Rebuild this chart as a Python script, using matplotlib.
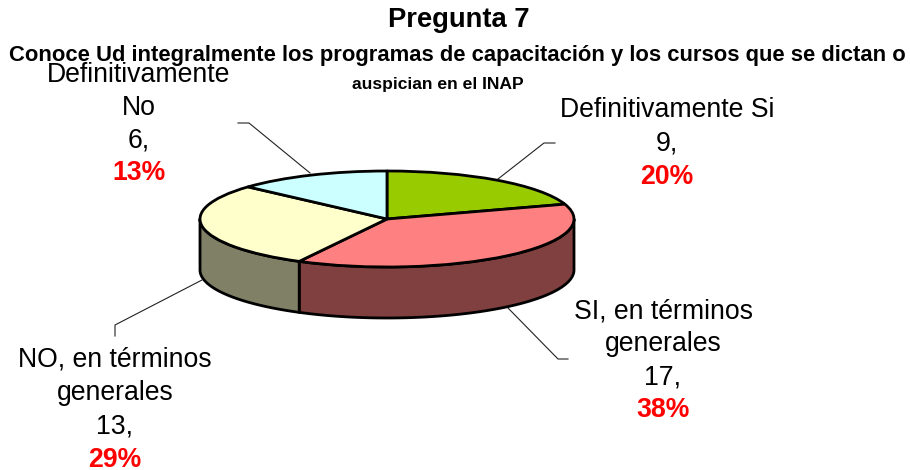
import numpy as np
import matplotlib
matplotlib.use('Agg')
import matplotlib.pyplot as plt
from matplotlib.lines import Line2D
from matplotlib.patches import Polygon

plt.rcParams['font.family'] = ['Liberation Sans', 'DejaVu Sans']

title = 'Pregunta 7'
subtitle = ['Conoce Ud integralmente los programas de capacitación y los cursos que se dictan o',
            'auspician en el INAP']
labels = [['Definitivamente Si'],
          ['SI, en términos', 'generales'],
          ['NO, en términos', 'generales'],
          ['Definitivamente', 'No']]
values = [9, 17, 13, 6]
top_colors = ['#99CC00', '#FF8080', '#FFFFCC', '#CCFFFF']
wall_colors = ['#4D6600', '#804040', '#808066', '#668080']

W, H = 910, 470
# pie geometry in pixels of the picture
cx, cy, rx, ry, depth = 387, 219, 187, 48, 51
edge = 2.0


def fx(x):
    return x / W


def fy(y):
    return 1 - y / H


fig = plt.figure(figsize=(W / 100, H / 100), dpi=100)
ax = fig.add_axes([0, 0, 1, 1])

total = sum(values)
bounds = np.cumsum([0] + values) / total * 360
depth_u = depth / ry

# front wall of the pie, only the part facing the viewer
for i in range(len(values)):
    a0 = max(bounds[i], 90)
    a1 = min(bounds[i + 1], 270)
    if a1 <= a0:
        continue
    th = np.radians(np.linspace(a0, a1, 80))
    xs = np.sin(th)
    ys = np.cos(th)
    pts = np.r_[np.c_[xs, ys], np.c_[xs[::-1], ys[::-1] - depth_u]]
    ax.add_patch(Polygon(pts, closed=True, facecolor=wall_colors[i],
                         edgecolor='black', linewidth=edge, joinstyle='round'))

ax.pie(values, colors=top_colors, startangle=90, counterclock=False, radius=1,
       wedgeprops={'edgecolor': 'black', 'linewidth': edge, 'joinstyle': 'round'})
ax.set_aspect('auto')
ax.set_xlim(-cx / rx, (W - cx) / rx)
ax.set_ylim((cy - H) / ry, cy / ry)
ax.set_axis_off()

# titles
fig.text(fx(459), fy(20), title, fontsize=19.7, fontweight='bold',
         ha='center', va='center', color='black')
fig.text(fx(457), fy(56), subtitle[0], fontsize=15.85, fontweight='bold',
         ha='center', va='center', color='black')
fig.text(fx(438), fy(85), subtitle[1], fontsize=12.6, fontweight='bold',
         ha='center', va='center', color='black')

# data labels: centre x, y of first line, line step
label_pos = [(667, 110, 33.5), (663, 311, 33), (115, 359, 33.7), (139, 75, 32.8)]
for name, v, (lx, ly, step) in zip(labels, values, label_pos):
    rows = name + [f'{v},']
    for j, row in enumerate(rows):
        fig.text(fx(lx), fy(ly + j * step), row, fontsize=19.2, ha='center',
                 va='center', color='black')
    fig.text(fx(lx), fy(ly + len(rows) * step), f'{v / total:.0%}', fontsize=19.2,
             fontweight='bold', ha='center', va='center', color='#FF0000')

# leader lines
leaders = [([555, 544, 498], [143, 143, 179]),
           ([508, 558, 568], [308, 359, 359]),
           ([202, 115, 115], [280, 325, 336]),
           ([238, 249, 310], [123, 123, 173])]
for xs, ys in leaders:
    fig.add_artist(Line2D([fx(x) for x in xs], [fy(y) for y in ys],
                          color='#222222', linewidth=0.8))

fig.savefig('out.png', dpi=100)
